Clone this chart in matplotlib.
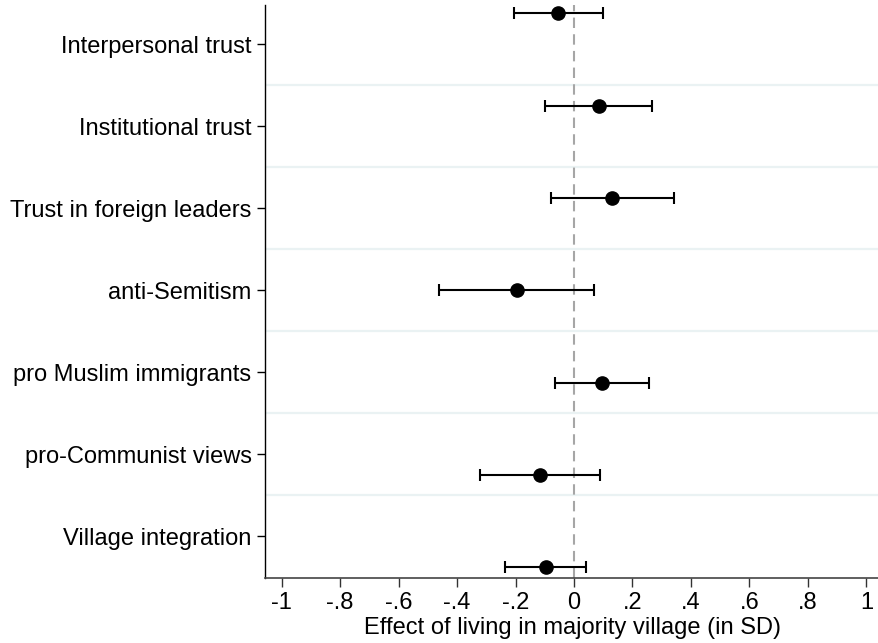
import matplotlib
matplotlib.use("Agg")
import matplotlib.pyplot as plt
import numpy as np

# ---- data ----
categories = ["Interpersonal trust", "Institutional trust", "Trust in foreign leaders",
              "anti-Semitism", "pro Muslim immigrants", "pro-Communist views",
              "Village integration"]
coef = [-0.054, 0.085, 0.131, -0.196, 0.095, -0.115, -0.096]
ci_low = [-0.206, -0.098, -0.079, -0.460, -0.064, -0.322, -0.235]
ci_high = [0.099, 0.268, 0.342, 0.070, 0.257, 0.089, 0.041]
xtick_values = [-1, -0.8, -0.6, -0.4, -0.2, 0, 0.2, 0.4, 0.6, 0.8, 1]
xtick_labels = ["-1", "-.8", "-.6", "-.4", "-.2", "0", ".2", ".4", ".6", ".8", "1"]
xlabel = "Effect of living in majority village (in SD)"

plt.rcParams['font.family'] = ['Liberation Sans', 'DejaVu Sans']
FS = 17

fig = plt.figure(figsize=(8.79, 6.43), dpi=100)
ax = fig.add_axes([265.5 / 879, 1 - 577.5 / 643, 1 - 265.5 / 879, (577.5 - 4.7) / 643])

n = len(categories)
tick_pos = np.arange(n)
# points are drawn with a progressive vertical offset around each label
pt_pos = tick_pos + (tick_pos - (n - 1) / 2) * 0.126

coef_a = np.array(coef)
err = np.vstack([coef_a - np.array(ci_low), np.array(ci_high) - coef_a])

# separators
for b in np.arange(n - 1) + 0.5:
    ax.axhline(b, color="#eaf2f3", lw=1.6, zorder=0)

ax.axvline(0, color="#a6a6a6", lw=1.5, linestyle=(0, (5, 3)), zorder=1)

ax.errorbar(coef_a, pt_pos, xerr=err, fmt="o", color="black", ecolor="black",
            elinewidth=1.5, capsize=4.5, capthick=1.5, markersize=9.5, zorder=3)

ax.set_xlim(-1.055, 1.043)
ax.set_ylim(6.5, -0.483)

ax.set_yticks(tick_pos)
ax.set_yticklabels(categories, fontsize=FS)
ax.set_xticks(xtick_values)
ax.set_xticklabels(xtick_labels, fontsize=FS)
ax.set_xlabel(xlabel, fontsize=FS, labelpad=2)

ax.tick_params(axis="y", length=6, width=1.0, pad=4, color="black")
ax.tick_params(axis="x", length=6.5, width=1.0, pad=4, color="#333333")

for s in ["top", "right"]:
    ax.spines[s].set_visible(False)
ax.spines["left"].set_color("black")
ax.spines["left"].set_linewidth(1.0)
ax.spines["bottom"].set_color("#444444")
ax.spines["bottom"].set_linewidth(1.2)

fig.savefig("out.png", dpi=100)
